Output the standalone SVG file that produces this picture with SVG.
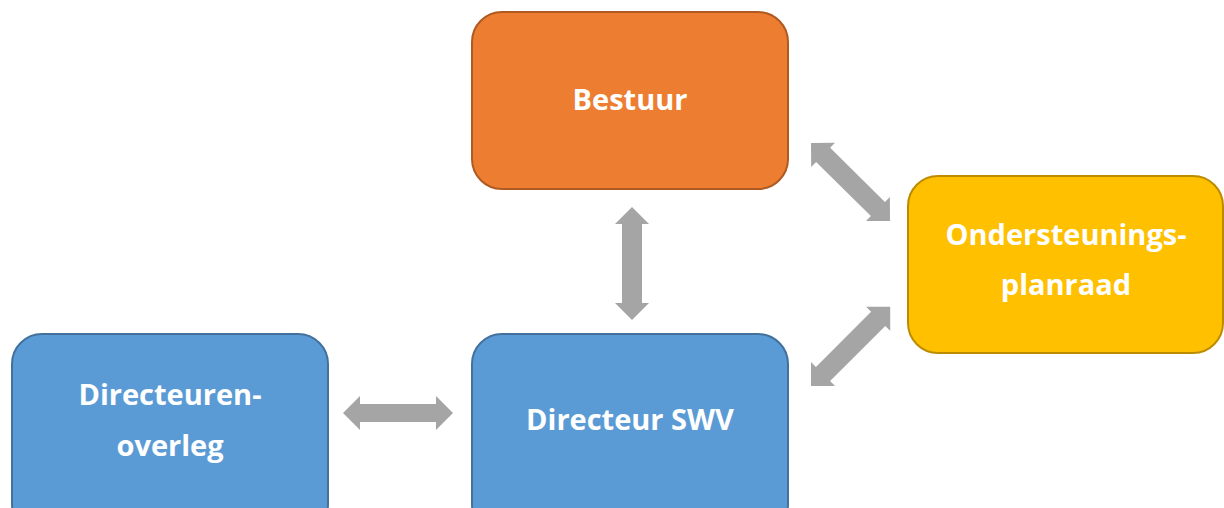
<svg xmlns="http://www.w3.org/2000/svg" width="1224" height="508" viewBox="0 0 1224 508">
<defs>
<style>
.box{stroke-width:2}
.orange{fill:#ED7D31;stroke:#AE5A21}
.yellow{fill:#FFC000;stroke:#BC8C00}
.blue{fill:#5B9BD5;stroke:#41719C}
.lbl{font-family:"Open Sans","Liberation Sans",sans-serif;font-weight:700;font-size:29px;fill:#FFFFFF;text-anchor:middle}
.arr{fill:#A5A5A5}
</style>
</defs>
<rect width="1224" height="508" fill="#FFFFFF"/>
<g id="connectors">
<polygon class="arr" transform="translate(632,207) rotate(90)" points="0,0 17,-17 17,-10 96,-10 96,-17 113,0 96,17 96,10 17,10 17,17"/>
<polygon class="arr" transform="translate(343,413)" points="0,0 17,-17 17,-9 93,-9 93,-17 110,0 93,17 93,9 17,9 17,17"/>
<polygon class="arr" transform="translate(811,143) rotate(44.6)" points="0,0 17,-17 17,-10 94,-10 94,-17 111,0 94,17 94,10 17,10 17,17"/>
<polygon class="arr" transform="translate(811,386) rotate(-45)" points="0,0 17,-17 17,-10 95,-10 95,-17 112,0 95,17 95,10 17,10 17,17"/>
</g>
<g id="bestuur">
<rect class="box orange" x="472" y="12" width="316" height="177" rx="30" ry="30"/>
<text class="lbl" x="630" y="110">Bestuur</text>
</g>
<g id="ondersteuningsplanraad">
<rect class="box yellow" x="908" y="176" width="315" height="177" rx="30" ry="30"/>
<text class="lbl" x="1066" y="245">Ondersteunings-</text>
<text class="lbl" x="1066" y="295">planraad</text>
</g>
<g id="directeurenoverleg">
<rect class="box blue" x="12" y="334" width="316" height="200" rx="30" ry="30"/>
<text class="lbl" x="170" y="405">Directeuren-</text>
<text class="lbl" x="170" y="456">overleg</text>
</g>
<g id="directeurswv">
<rect class="box blue" x="472" y="334" width="316" height="200" rx="30" ry="30"/>
<text class="lbl" x="630" y="430">Directeur SWV</text>
</g>
</svg>
